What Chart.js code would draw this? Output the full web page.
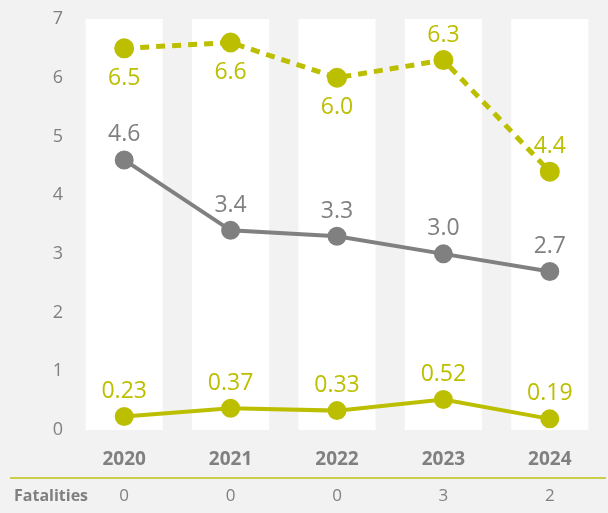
<!DOCTYPE html>
<html>
<head>
<meta charset="utf-8">
<script src="https://cdn.jsdelivr.net/npm/chart.js@4"></script>
<style>
  html, body { margin: 0; padding: 0; background: #f2f2f2; overflow: hidden; }
  #wrap { width: 608px; height: 513px; position: relative; }
</style>
</head>
<body>
<div id="wrap"><canvas id="chart"></canvas></div>
<script>
const years = ['2020', '2021', '2022', '2023', '2024'];
const dashedSeries = [6.5, 6.6, 6.0, 6.3, 4.4];
const graySeries = [4.6, 3.4, 3.3, 3.0, 2.7];
const lowSeries = [0.23, 0.37, 0.33, 0.52, 0.19];
const dashedLabels = ['6.5', '6.6', '6.0', '6.3', '4.4'];
const grayLabels = ['4.6', '3.4', '3.3', '3.0', '2.7'];
const lowLabels = ['0.23', '0.37', '0.33', '0.52', '0.19'];
const dashedLabelSide = ['below', 'below', 'below', 'above', 'above'];
const fatalities = ['0', '0', '0', '3', '2'];
const bandTop = [7, 7, 7, 7, 7];

const GREEN = '#bcbf00';
const GRAY = '#808080';
const FONT = '"Open Sans", "DejaVu Sans", sans-serif';

// value labels next to each point
const valueLabels = {
  id: 'valueLabels',
  afterDatasetsDraw(chart) {
    const ctx = chart.ctx;
    ctx.save();
    ctx.font = '23px ' + FONT;
    ctx.textAlign = 'center';
    ctx.textBaseline = 'middle';
    chart.data.datasets.forEach((ds, i) => {
      if (!ds.labels) return;
      const meta = chart.getDatasetMeta(i);
      meta.data.forEach((pt, j) => {
        const below = ds.sides && ds.sides[j] === 'below';
        ctx.fillStyle = ds.borderColor;
        ctx.fillText(ds.labels[j], pt.x, below ? pt.y + 30 : pt.y - 25);
      });
    });
    ctx.restore();
  }
};

// fatalities row under the axis
const fatalityRow = {
  id: 'fatalityRow',
  afterDraw(chart) {
    const ctx = chart.ctx;
    const x = chart.scales.x;
    ctx.save();
    ctx.strokeStyle = '#cbce4a';
    ctx.lineWidth = 2;
    ctx.beginPath();
    ctx.moveTo(10, 478);
    ctx.lineTo(606, 478);
    ctx.stroke();
    ctx.fillStyle = GRAY;
    ctx.textBaseline = 'middle';
    ctx.textAlign = 'left';
    ctx.font = 'bold 16px ' + FONT;
    ctx.fillText('Fatalities', 14, 496);
    ctx.textAlign = 'center';
    ctx.font = '17px ' + FONT;
    fatalities.forEach((f, i) => {
      ctx.fillText(f, x.getPixelForValue(i), 496);
    });
    ctx.restore();
  }
};

new Chart(document.getElementById('chart'), {
  data: {
    labels: years,
    datasets: [
      {
        type: 'line',
        data: dashedSeries,
        labels: dashedLabels,
        sides: dashedLabelSide,
        borderColor: GREEN,
        backgroundColor: GREEN,
        borderWidth: 5,
        borderDash: [9, 7],
        pointRadius: 7.5,
        pointHoverRadius: 7.5,
        clip: false,
        order: 1
      },
      {
        type: 'line',
        data: graySeries,
        labels: grayLabels,
        borderColor: GRAY,
        backgroundColor: GRAY,
        borderWidth: 4,
        pointRadius: 7.5,
        pointHoverRadius: 7.5,
        clip: false,
        order: 2
      },
      {
        type: 'line',
        data: lowSeries,
        labels: lowLabels,
        borderColor: GREEN,
        backgroundColor: GREEN,
        borderWidth: 4,
        pointRadius: 7.5,
        pointHoverRadius: 7.5,
        clip: false,
        order: 3
      },
      {
        type: 'bar',
        data: bandTop,
        backgroundColor: '#ffffff',
        categoryPercentage: 1,
        barPercentage: 0.725,
        order: 10
      }
    ]
  },
  options: {
    responsive: true,
    maintainAspectRatio: false,
    animation: false,
    events: [],
    layout: { autoPadding: false, padding: { top: 19, right: 5, bottom: 0, left: 0 } },
    plugins: {
      legend: { display: false },
      tooltip: { enabled: false }
    },
    scales: {
      x: {
        afterFit(scale) {
          scale.height = 83;
          scale.paddingLeft = 0;
          scale.paddingRight = 0;
        },
        grid: { display: false, drawTicks: false },
        border: { display: false },
        ticks: {
          color: GRAY,
          padding: 18,
          font: { family: FONT, size: 19, weight: 'bold' }
        }
      },
      y: {
        min: 0,
        max: 7,
        afterFit(scale) { scale.width = 71; },
        grid: { display: false, drawTicks: false },
        border: { display: false },
        ticks: {
          stepSize: 1,
          color: GRAY,
          padding: 8,
          font: { family: FONT, size: 18 }
        }
      }
    }
  },
  plugins: [valueLabels, fatalityRow]
});
</script>
</body>
</html>
